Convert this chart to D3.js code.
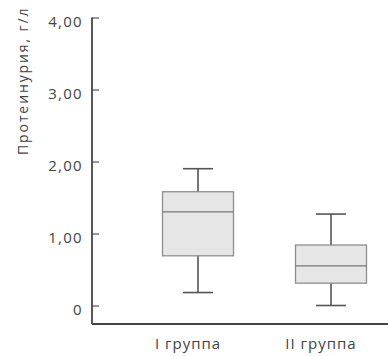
<!DOCTYPE html>
<html>
<head>
<meta charset="utf-8">
<script src="https://cdn.jsdelivr.net/npm/d3@7"></script>
<style>
  html, body { margin: 0; padding: 0; background: #fff; }
  svg { display: block; }
  text { font-family: "Open Sans", "Noto Sans", sans-serif; fill: #444; }
</style>
</head>
<body>
<svg id="chart" width="388" height="356"></svg>
<script>
// Groups and five-number summaries (г/л)
const groups = ["I группа", "II группа"];
const whiskerLow  = [0.18, 0.00];
const quartileLow = [0.69, 0.31];
const medians     = [1.30, 0.55];
const quartileHigh = [1.58, 0.84];
const whiskerHigh = [1.90, 1.27];
const yTicks = [0, 1, 2, 3, 4];
const yTitle = "Протеинурия, г/л";

const svg = d3.select("#chart");
const axisX = 92, axisBottom = 324;

const y = d3.scaleLinear().domain([0, 4]).range([305.5, 17.5]);
const x = d3.scalePoint().domain(groups).range([198, 331]);

const boxW = 71, capW = 30;
const fmt = v => v === 0 ? "0" : d3.format(".2f")(v).replace(".", ",");

// Y axis with inward ticks
const yAxis = d3.axisRight(y).tickValues(yTicks).tickSize(7).tickFormat("");
const gy = svg.append("g").attr("transform", `translate(${axisX},0)`).call(yAxis);
gy.select(".domain").remove();
gy.selectAll(".tick line").attr("stroke", "#555").attr("stroke-width", 1.2);
svg.append("line")
  .attr("x1", axisX).attr("x2", axisX)
  .attr("y1", y(4)).attr("y2", axisBottom)
  .attr("stroke", "#444").attr("stroke-width", 1.8);

// Tick labels
svg.append("g").selectAll("text").data(yTicks).join("text")
  .attr("x", 83).attr("y", d => y(d) + 4)
  .attr("dy", "0.35em")
  .attr("text-anchor", "end")
  .style("font-size", "15px")
  .style("letter-spacing", "1.3px")
  .text(fmt);

// X axis baseline
svg.append("line")
  .attr("x1", axisX).attr("x2", 388)
  .attr("y1", axisBottom).attr("y2", axisBottom)
  .attr("stroke", "#444").attr("stroke-width", 1.8);

// Category labels
svg.append("g").selectAll("text").data(groups).join("text")
  .attr("x", d => x(d) - 10).attr("y", 349)
  .attr("text-anchor", "middle")
  .style("font-size", "15px")
  .style("letter-spacing", "1px")
  .text(d => d);

// Axis title
svg.append("text")
  .attr("transform", `translate(28,155) rotate(-90)`)
  .attr("text-anchor", "start")
  .style("font-size", "14px")
  .style("letter-spacing", "1.9px")
  .text(yTitle);

// Box plots
const boxes = svg.append("g").selectAll("g").data(groups).join("g");
boxes.append("line")
  .attr("x1", d => x(d)).attr("x2", d => x(d))
  .attr("y1", (d, i) => y(whiskerLow[i])).attr("y2", (d, i) => y(whiskerHigh[i]))
  .attr("stroke", "#555").attr("stroke-width", 1.6);
boxes.selectAll("line.cap").data((d, i) => [[d, whiskerLow[i]], [d, whiskerHigh[i]]]).join("line")
  .attr("class", "cap")
  .attr("x1", ([d]) => x(d) - capW / 2).attr("x2", ([d]) => x(d) + capW / 2)
  .attr("y1", ([, v]) => y(v)).attr("y2", ([, v]) => y(v))
  .attr("stroke", "#555").attr("stroke-width", 1.6);
boxes.append("rect")
  .attr("x", d => x(d) - boxW / 2).attr("width", boxW)
  .attr("y", (d, i) => y(quartileHigh[i]))
  .attr("height", (d, i) => y(quartileLow[i]) - y(quartileHigh[i]))
  .attr("fill", "#e6e6e6").attr("stroke", "#8e8e8e").attr("stroke-width", 1.3);
boxes.append("line")
  .attr("x1", d => x(d) - boxW / 2).attr("x2", d => x(d) + boxW / 2)
  .attr("y1", (d, i) => y(medians[i])).attr("y2", (d, i) => y(medians[i]))
  .attr("stroke", "#777").attr("stroke-width", 1.4);
</script>
</body>
</html>
